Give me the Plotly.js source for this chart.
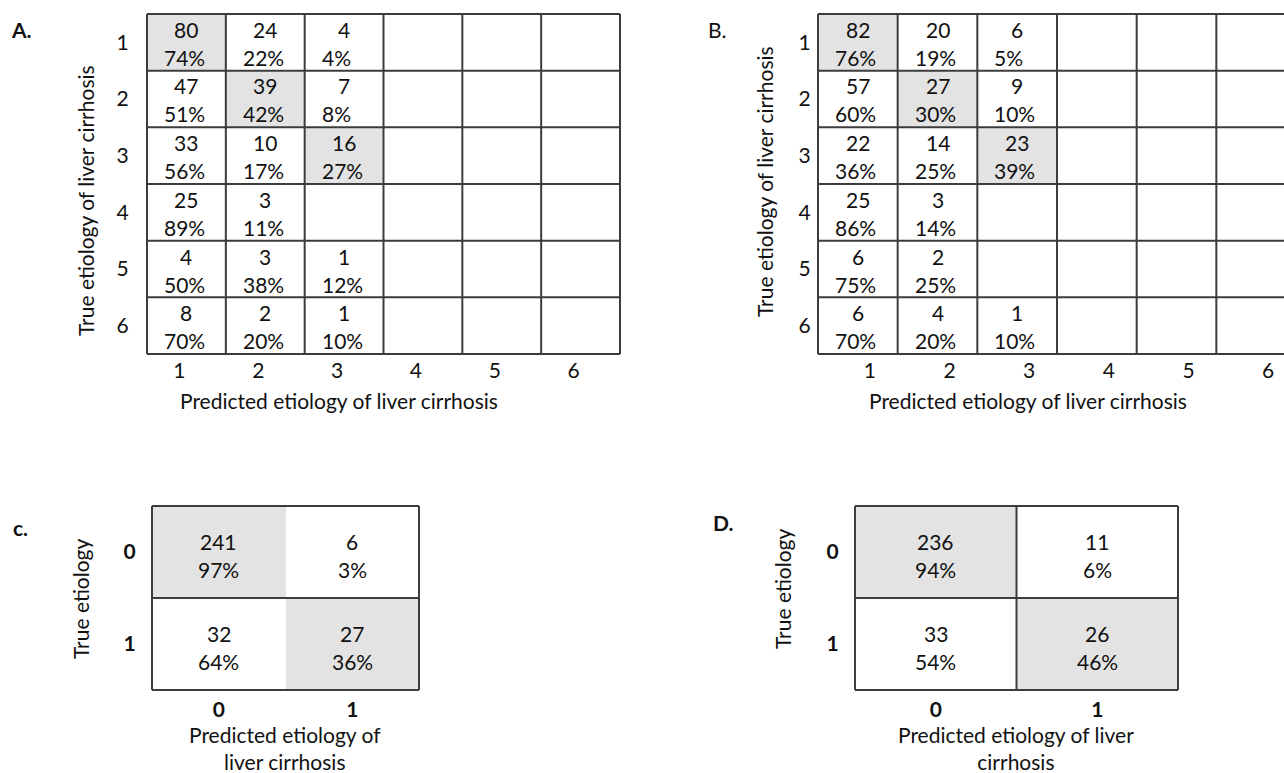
<!DOCTYPE html>
<html>
<head>
<meta charset="utf-8">
<script src="https://cdn.plot.ly/plotly-3.0.1.min.js"></script>
<style>
  html, body { margin: 0; padding: 0; background: #ffffff; }
  #chart { width: 1284px; height: 773px; }
</style>
</head>
<body>
<div id="chart"></div>
<script>
// ---------------- DATA ----------------
const labels6 = ["1", "2", "3", "4", "5", "6"];
const labels2 = ["0", "1"];

const countsA = [
  [80, 24, 4, null, null, null],
  [47, 39, 7, null, null, null],
  [33, 10, 16, null, null, null],
  [25, 3, null, null, null, null],
  [4, 3, 1, null, null, null],
  [8, 2, 1, null, null, null]
];
const pctA = [
  [74, 22, 4, null, null, null],
  [51, 42, 8, null, null, null],
  [56, 17, 27, null, null, null],
  [89, 11, null, null, null, null],
  [50, 38, 12, null, null, null],
  [70, 20, 10, null, null, null]
];

const countsB = [
  [82, 20, 6, null, null, null],
  [57, 27, 9, null, null, null],
  [22, 14, 23, null, null, null],
  [25, 3, null, null, null, null],
  [6, 2, null, null, null, null],
  [6, 4, 1, null, null, null]
];
const pctB = [
  [76, 19, 5, null, null, null],
  [60, 30, 10, null, null, null],
  [36, 25, 39, null, null, null],
  [86, 14, null, null, null, null],
  [75, 25, null, null, null, null],
  [70, 20, 10, null, null, null]
];

const countsC = [
  [241, 6],
  [32, 27]
];
const pctC = [
  [97, 3],
  [64, 36]
];

const countsD = [
  [236, 11],
  [33, 26]
];
const pctD = [
  [94, 6],
  [54, 46]
];

const panelLabels = ["A.", "B.", "c.", "D."];
const xTitles = [
  "Predicted etiology of liver cirrhosis",
  "Predicted etiology of liver cirrhosis",
  "Predicted etiology of<br>liver cirrhosis",
  "Predicted etiology of liver<br>cirrhosis"
];
const yTitles = [
  "True etiology of liver cirrhosis",
  "True etiology of liver cirrhosis",
  "True etiology",
  "True etiology"
];

// ---------------- STYLE / LAYOUT ----------------
const W = 1284, H = 773;
const FONT = "Lato, 'Open Sans', sans-serif";
const FS = 21;
const TXT = "#111111";
const GRAY = "#e3e3e3";
const LINE = "#3c3c3c";
const LW = 2;
const PAD = 2;

const panels = [
  { counts: countsA, pct: pctA, labels: labels6, left: 147, right: 620, top: 14, bottom: 354,
    pctLeft: true, innerV: true, bold: false, rowStand: 11, colStand: -4, colShift: -7, txtShift: 0,
    label: { x: 22, y: 30, bold: true }, xt: { x: 339, y: 400 }, yt: { x: 85, y: 200 } },
  { counts: countsB, pct: pctB, labels: labels6, left: 818, right: 1296, top: 14, bottom: 354,
    pctLeft: true, innerV: true, bold: false, rowStand: 0, colStand: -4, colShift: 12, txtShift: 0,
    label: { x: 717, y: 30, bold: false }, xt: { x: 1028, y: 400 }, yt: { x: 764, y: 181 } },
  { counts: countsC, pct: pctC, labels: labels2, left: 152, right: 419, top: 506, bottom: 690,
    pctLeft: false, innerV: false, bold: true, rowStand: 9, colStand: -1, colShift: 0, txtShift: -2,
    label: { x: 21, y: 527, bold: true }, xt: { x: 285, y: 748 }, yt: { x: 80, y: 599 } },
  { counts: countsD, pct: pctD, labels: labels2, left: 855, right: 1178, top: 506, bottom: 690,
    pctLeft: false, innerV: true, bold: true, rowStand: 9, colStand: -1, colShift: 0, txtShift: -2,
    label: { x: 724, y: 522, bold: true }, xt: { x: 1016, y: 748 }, yt: { x: 782, y: 589 } }
];

const traces = [];
const shapes = [];
const annotations = [];
const layout = {
  width: W, height: H,
  margin: { l: 0, r: 0, t: 0, b: 0, pad: 0 },
  paper_bgcolor: "#ffffff",
  plot_bgcolor: "rgba(0,0,0,0)",
  showlegend: false,
  font: { family: FONT, size: FS, color: TXT },
  shapes: shapes,
  annotations: annotations
};

panels.forEach((p, k) => {
  const n = p.labels.length;
  const m = p.counts.length;
  const sfx = k === 0 ? "" : String(k + 1);
  const xa = "x" + sfx, ya = "y" + sfx;
  const colW = (p.right - p.left) / n;
  const rowH = (p.bottom - p.top) / m;
  const rightPx = Math.min(p.right + PAD, W);

  const idxX = p.labels.map((_, j) => j);
  const idxY = p.counts.map((_, i) => i);
  const z = p.counts.map((row, i) => row.map((v, j) => (i === j && v !== null) ? 1 : 0));

  traces.push({
    type: "heatmap", x: idxX, y: idxY, z: z, xaxis: xa, yaxis: ya,
    zmin: 0, zmax: 1, colorscale: [[0, "#ffffff"], [1, GRAY]],
    showscale: false, hoverinfo: "skip", xgap: 0, ygap: 0
  });

  const tickFont = { family: FONT, size: FS, color: TXT, weight: p.bold ? "bold" : "normal" };
  layout["xaxis" + sfx] = {
    domain: [(p.left - PAD) / W, rightPx / W],
    range: [-0.5 - PAD / colW, -0.5 + (rightPx - p.left) / colW],
    anchor: ya, side: "bottom",
    tickmode: "array", tickvals: idxX, ticktext: p.labels,
    ticks: "outside", ticklen: 0, tickcolor: "rgba(0,0,0,0)",
    ticklabelstandoff: p.colStand,
    ticklabelshift: p.colShift,
    tickfont: tickFont,
    showgrid: false, zeroline: false, showline: false, fixedrange: true
  };
  layout["yaxis" + sfx] = {
    domain: [1 - (p.bottom + PAD) / H, 1 - (p.top - PAD) / H],
    range: [m - 0.5 + PAD / rowH, -0.5 - PAD / rowH],
    anchor: xa,
    tickmode: "array", tickvals: idxY, ticktext: p.labels.slice(0, m),
    ticks: "outside", ticklen: p.rowStand, tickcolor: "rgba(0,0,0,0)",
    tickfont: tickFont,
    showgrid: false, zeroline: false, showline: false, fixedrange: true
  };

  const lineStyle = { color: LINE, width: LW };
  for (let i = 0; i <= m; i++) {
    shapes.push({ type: "line", xref: xa, yref: ya, x0: -0.5, x1: n - 0.5, y0: i - 0.5, y1: i - 0.5, line: lineStyle });
  }
  for (let j = 0; j <= n; j++) {
    if (!p.innerV && j > 0 && j < n) continue;
    shapes.push({ type: "line", xref: xa, yref: ya, x0: j - 0.5, x1: j - 0.5, y0: -0.5, y1: m - 0.5, line: lineStyle });
  }

  // cell texts
  p.counts.forEach((row, i) => {
    row.forEach((v, j) => {
      if (v === null) return;
      annotations.push({
        xref: xa, yref: ya, x: j, y: i, text: String(v), showarrow: false,
        xanchor: "center", yanchor: "middle", yshift: 13 + p.txtShift,
        font: { family: FONT, size: FS, color: TXT }
      });
      const pv = p.pct[i][j];
      if (pv !== null) {
        annotations.push({
          xref: xa, yref: ya, x: p.pctLeft ? j - 0.5 : j, y: i, text: pv + "%", showarrow: false,
          xanchor: p.pctLeft ? "left" : "center", xshift: p.pctLeft ? 15 : 0,
          yanchor: "middle", yshift: -15 + p.txtShift,
          font: { family: FONT, size: FS, color: TXT }
        });
      }
    });
  });

  // titles & panel label
  annotations.push({
    xref: "paper", yref: "paper", x: p.xt.x / W, y: 1 - p.xt.y / H, text: xTitles[k],
    showarrow: false, xanchor: "center", yanchor: "middle", align: "center",
    font: { family: FONT, size: FS, color: TXT }
  });
  annotations.push({
    xref: "paper", yref: "paper", x: p.yt.x / W, y: 1 - p.yt.y / H, text: yTitles[k],
    showarrow: false, xanchor: "center", yanchor: "middle", textangle: -90,
    font: { family: FONT, size: FS, color: TXT }
  });
  annotations.push({
    xref: "paper", yref: "paper", x: p.label.x / W, y: 1 - p.label.y / H, text: panelLabels[k],
    showarrow: false, xanchor: "center", yanchor: "middle",
    font: { family: FONT, size: FS, color: TXT, weight: p.label.bold ? "bold" : "normal" }
  });
});

Plotly.newPlot("chart", traces, layout, { displayModeBar: false, staticPlot: true });
</script>
</body>
</html>
